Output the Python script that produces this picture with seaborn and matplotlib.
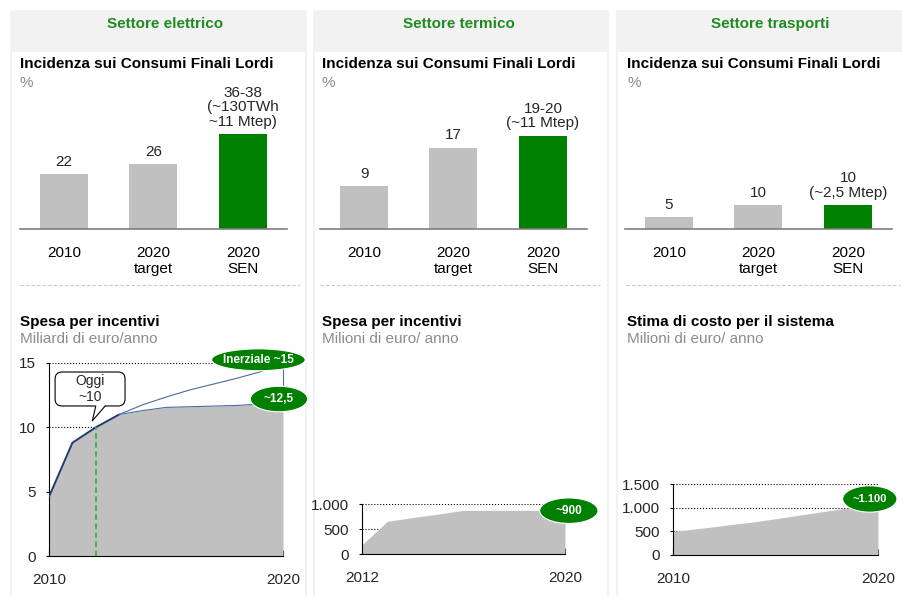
import matplotlib
matplotlib.use('Agg')
import matplotlib.pyplot as plt
import seaborn as sns
from matplotlib.patches import Rectangle, Ellipse, FancyBboxPatch, Polygon

# --- Data ---
sectors = ["Settore elettrico", "Settore termico", "Settore trasporti"]
bar_cats = ["2010", "2020\ntarget", "2020\nSEN"]

share_elettrico = [22, 26, 38]
share_termico = [9, 17, 19.5]
share_trasporti = [5, 10, 10]
labels_elettrico = ["22", "26", "36-38\n(~130TWh\n~11 Mtep)"]
labels_termico = ["9", "17", "19-20\n(~11 Mtep)"]
labels_trasporti = ["5", "10", "10\n(~2,5 Mtep)"]

years_el = list(range(2010, 2021))
spesa_el_sen = [4.6, 8.8, 10.0, 11.0, 11.3, 11.55, 11.6, 11.65, 11.7, 11.8, 12.5]
years_inerz = list(range(2013, 2021))
spesa_el_inerz = [11.0, 11.75, 12.35, 12.9, 13.35, 13.8, 14.3, 15.0]
yticks_el = [0, 5, 10, 15]

years_term = list(range(2012, 2021))
spesa_term = [190, 660, 735, 805, 880, 880, 880, 880, 880]
yticks_term = [0, 500, 1000]
yticklabels_term = ["0", "500", "1.000"]

years_tr = list(range(2010, 2021))
costo_tr = [500, 550, 600, 655, 705, 770, 835, 900, 965, 1030, 1100]
yticks_tr = [0, 500, 1000, 1500]
yticklabels_tr = ["0", "500", "1.000", "1.500"]

# --- Style ---
W, H = 902, 596
GREEN = '#008000'
HEAD_GREEN = '#1e8c1e'
GRAY_BAR = '#c0c0c0'
SUB_GRAY = '#8c8c8c'
NAVY = '#1f3b73'
NAVY_THIN = '#4a6ba8'

sns.set_theme(style='white')
plt.rcParams['font.family'] = ['Liberation Sans', 'DejaVu Sans']
plt.rcParams['font.size'] = 11

fig = plt.figure(figsize=(W / 100, H / 100), dpi=100)


def px_axes(l, t, w, h):
    return fig.add_axes([l / W, 1 - (t + h) / H, w / W, h / H])


# background panels in pixel coordinates
bg = fig.add_axes([0, 0, 1, 1])
bg.set_xlim(0, W)
bg.set_ylim(H, 0)
bg.axis('off')

panels = [(10, 306.5), (312.5, 609), (615.5, 904)]
head_cx = [165, 459, 770]
title_x = [20, 322, 627]
sep_x = [(20, 300), (320, 600), (626, 900)]
bottom_titles = ["Spesa per incentivi", "Spesa per incentivi", "Stima di costo per il sistema"]
bottom_subs = ["Miliardi di euro/anno", "Milioni di euro/ anno", "Milioni di euro/ anno"]

for i, (x0, x1) in enumerate(panels):
    bg.add_patch(Rectangle((x0, 10), x1 - x0, H - 10, fc='#f2f2f2', ec='none'))
    bg.add_patch(Rectangle((x0 + 2, 52), x1 - x0 - 4, H - 52, fc='white', ec='none'))
    bg.text(head_cx[i], 24, sectors[i], ha='center', va='center', color=HEAD_GREEN,
            fontsize=11, fontweight='bold')
    bg.text(title_x[i], 64, "Incidenza sui Consumi Finali Lordi", va='center',
            fontsize=11, fontweight='bold', color='black')
    bg.text(title_x[i], 83, "%", va='center', fontsize=11, color=SUB_GRAY)
    bg.plot(sep_x[i], [285, 285], ls=(0, (3, 2)), color='#c8c8c8', lw=0.8)
    bg.text(title_x[i], 322, bottom_titles[i], va='center', fontsize=11,
            fontweight='bold', color='black')
    bg.text(title_x[i], 339, bottom_subs[i], va='center', fontsize=11, color=SUB_GRAY)

# ── 1. Bar charts (top row)
bar_sets = [
    (20, share_elettrico, labels_elettrico, 53.8),
    (320, share_termico, labels_termico, 28.1),
    (625, share_trasporti, labels_trasporti, 56.8),
]
for left, vals, labs, ymax in bar_sets:
    ax = px_axes(left, 95, 267, 134)
    ax.set_facecolor('none')
    sns.barplot(x=bar_cats, y=vals, hue=bar_cats, palette=[GRAY_BAR, GRAY_BAR, GREEN],
                saturation=1, width=0.537, linewidth=0, legend=False, ax=ax)
    ax.set_xlim(-0.492, 2.493)
    ax.set_ylim(0, ymax)
    for s in ['top', 'right', 'left']:
        ax.spines[s].set_visible(False)
    ax.spines['bottom'].set_color('#7f7f7f')
    ax.spines['bottom'].set_linewidth(1.2)
    ax.set_yticks([])
    ax.tick_params(axis='x', length=0, pad=12, labelsize=11, colors='black')
    ax.set_xlabel('')
    ax.set_ylabel('')
    for j, (v, lab) in enumerate(zip(vals, labs)):
        ax.annotate(lab, (j, v), xytext=(0, 4), textcoords='offset points',
                    ha='center', va='bottom', fontsize=11, linespacing=1.05,
                    annotation_clip=False)


def style_bottom(ax, years, yticks, yticklabels):
    ax.set_facecolor('none')
    ax.set_xlim(years[0], years[-1])
    ax.set_ylim(yticks[0], yticks[-1])
    ax.set_xticks(years)
    ax.set_xticklabels([str(years[0])] + [''] * (len(years) - 2) + [str(years[-1])])
    ax.set_yticks(yticks)
    ax.set_yticklabels(yticklabels)
    for s in ['top', 'right']:
        ax.spines[s].set_visible(False)
    for s in ['left', 'bottom']:
        ax.spines[s].set_color('black')
        ax.spines[s].set_linewidth(0.8)
    ax.tick_params(axis='x', direction='in', length=4, width=0.8, color='black',
                   pad=12, labelsize=11, bottom=True)
    ax.tick_params(axis='y', direction='out', length=2.5, width=0.8, color='black',
                   pad=7, labelsize=11, left=True)
    ax.yaxis.grid(True, ls=':', color='black', lw=0.8)
    ax.xaxis.grid(False)
    ax.set_axisbelow(True)
    ax.set_xlabel('')
    ax.set_ylabel('')


def bubble(ax, x, y, w, h, text, size=8.5):
    ax.add_patch(Ellipse((x, y), w, h, fc=GREEN, ec='white', lw=0.8, zorder=6, clip_on=False))
    ax.text(x, y, text, color='white', fontweight='bold', fontsize=size, ha='center',
            va='center', zorder=7, clip_on=False)


# ── 2. Spesa per incentivi — settore elettrico
ax1 = px_axes(49, 363, 234, 193)
style_bottom(ax1, years_el, yticks_el, [str(t) for t in yticks_el])
ax1.fill_between(years_el, spesa_el_sen, color=GRAY_BAR, lw=0, zorder=2)
sns.lineplot(x=years_el[:4], y=spesa_el_sen[:4], color=NAVY, lw=1.4, ax=ax1, zorder=3)
sns.lineplot(x=years_el[3:], y=spesa_el_sen[3:], color=NAVY_THIN, lw=0.8, ax=ax1, zorder=3)
sns.lineplot(x=years_inerz, y=spesa_el_inerz, color=NAVY_THIN, lw=0.8, ax=ax1, zorder=3)
ax1.plot([2020, 2020], [spesa_el_inerz[-1], spesa_el_sen[-1]], color=NAVY_THIN, lw=0.8,
         zorder=3, clip_on=False)
ax1.plot([2012, 2012], [0, 10], ls=(0, (3, 2)), color='#3cb043', lw=1.3, zorder=4)

# "Oggi" callout
ax1.add_patch(FancyBboxPatch((2010.26, 11.66), 2.99, 2.64,
                             boxstyle='round,pad=0,rounding_size=0.3', mutation_aspect=1.82,
                             fc='white', ec='black', lw=0.8, zorder=5))
ax1.add_patch(Polygon([(2011.99, 11.75), (2012.41, 11.75), (2011.85, 10.5)],
                      closed=True, fc='white', ec='none', zorder=5.5))
ax1.plot([2012.0, 2011.85, 2012.4], [11.66, 10.5, 11.66], color='black', lw=0.8, zorder=6)
ax1.text(2011.75, 12.98, "Oggi\n~10", ha='center', va='center', fontsize=10,
         linespacing=1.1, zorder=7)

bubble(ax1, 2018.95, 15.25, 4.0, 1.7, "Inerziale ~15")
bubble(ax1, 2019.83, 12.2, 2.45, 1.98, "~12,5")

# ── 3. Spesa per incentivi — settore termico
ax2 = px_axes(362, 504.3, 203, 50)
style_bottom(ax2, years_term, yticks_term, yticklabels_term)
ax2.fill_between(years_term, spesa_term, color=GRAY_BAR, lw=0, zorder=2)
bubble(ax2, 2020.15, 872, 2.3, 510, "~900")

# ── 4. Stima di costo — settore trasporti
ax3 = px_axes(673, 484.3, 205, 70.7)
style_bottom(ax3, years_tr, yticks_tr, yticklabels_tr)
ax3.fill_between(years_tr, costo_tr, color=GRAY_BAR, lw=0, zorder=2)
bubble(ax3, 2019.6, 1189, 2.65, 560, "~1.100", size=8)

plt.savefig('out.png', dpi=100)
plt.close()
